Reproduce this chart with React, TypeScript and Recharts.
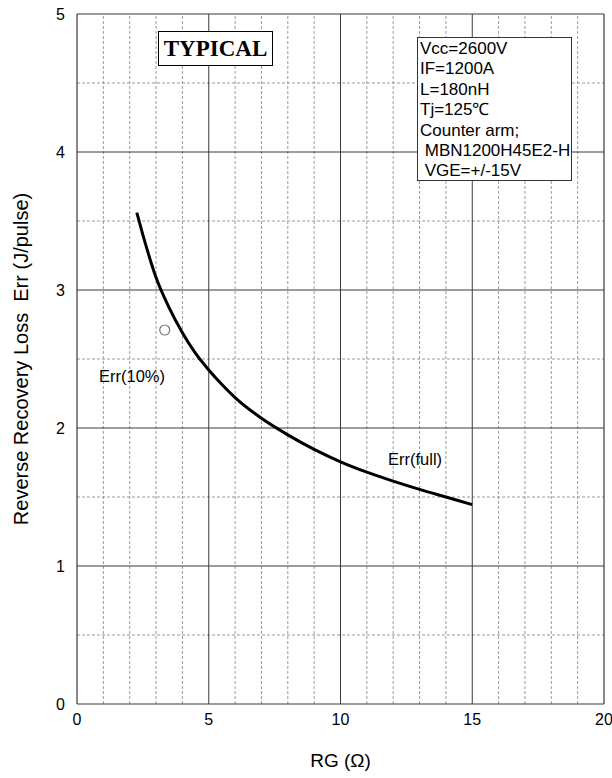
import {
  ComposedChart,
  Line,
  XAxis,
  YAxis,
  ReferenceLine,
  ReferenceDot,
} from "recharts";

// Err(full) curve
const rgValues = [2.27, 2.5, 3, 3.5, 4, 4.5, 5, 5.5, 6, 7, 8, 9, 10, 11, 12, 13, 14, 15];
const errValues = [3.56, 3.4, 3.09, 2.87, 2.69, 2.54, 2.42, 2.315, 2.22, 2.07, 1.95, 1.845, 1.755, 1.68, 1.615, 1.555, 1.5, 1.445];

// Err(10%) single point
const err10X = 3.33;
const err10Y = 2.71;

const xTicks = [0, 5, 10, 15, 20];
const yTicks = [0, 1, 2, 3, 4, 5];
const xMinor = [1, 2, 3, 4, 6, 7, 8, 9, 11, 12, 13, 14, 16, 17, 18, 19];
const xMajor = [5, 10, 15];
const yMinor = [0.5, 1.5, 2.5, 3.5, 4.5];
const yMajor = [1, 2, 3, 4];

const conditions = [
  "Vcc=2600V",
  "IF=1200A",
  "L=180nH",
  "Tj=125\u2103",
  "Counter arm;",
  " MBN1200H45E2-H",
  " VGE=+/-15V",
];

const FONT = "'Liberation Sans', Arial, sans-serif";
const MINOR = "#9a9a9a";
const MAJOR = "#3a3a3a";

export default function App() {
  const data = rgValues.map((rg, i) => ({ rg, err: errValues[i] }));

  return (
    <div style={{ position: "absolute", left: 0, top: 0, width: 612, height: 778, background: "#fff", fontFamily: FONT }}>
      <ComposedChart width={612} height={778} data={data} margin={{ top: 14, right: 8, left: 37, bottom: 44 }}>
        {xMinor.map((v) => (
          <ReferenceLine key={`xm${v}`} x={v} stroke={MINOR} strokeDasharray="3 2" strokeWidth={1} />
        ))}
        {yMinor.map((v) => (
          <ReferenceLine key={`ym${v}`} y={v} stroke={MINOR} strokeDasharray="3 2" strokeWidth={1} />
        ))}
        {xMajor.map((v) => (
          <ReferenceLine key={`xM${v}`} x={v} stroke={MAJOR} strokeWidth={1} />
        ))}
        {yMajor.map((v) => (
          <ReferenceLine key={`yM${v}`} y={v} stroke={MAJOR} strokeWidth={1} />
        ))}
        <ReferenceLine x={20} stroke={MAJOR} strokeWidth={1.2} />
        <ReferenceLine y={5} stroke={MAJOR} strokeWidth={1.2} />
        <XAxis
          type="number"
          dataKey="rg"
          domain={[0, 20]}
          ticks={xTicks}
          allowDataOverflow
          height={30}
          tickLine={false}
          axisLine={{ stroke: MAJOR, strokeWidth: 1.2 }}
          tick={{ fontSize: 16, fill: "#000", fontFamily: FONT }}
          tickMargin={4}
          label={{ value: "RG (\u03a9)", position: "insideBottom", offset: -33, fontSize: 19, fill: "#000", fontFamily: FONT }}
        />
        <YAxis
          type="number"
          domain={[0, 5]}
          ticks={yTicks}
          width={40}
          tickLine={false}
          axisLine={{ stroke: MAJOR, strokeWidth: 1.2 }}
          tick={{ fontSize: 16, fill: "#000", fontFamily: FONT }}
          tickMargin={6}
          label={{
            value: "Reverse Recovery Loss\u00a0 Err (J/pulse)",
            angle: -90,
            position: "insideLeft",
            offset: -16,
            style: { textAnchor: "middle", fontSize: 20, fill: "#000", fontFamily: FONT },
          }}
        />
        <Line
          type="monotone"
          dataKey="err"
          stroke="#000"
          strokeWidth={3}
          dot={false}
          isAnimationActive={false}
        />
        <ReferenceDot x={err10X} y={err10Y} r={5} fill="#fff" stroke="#777" strokeWidth={1.2} />
      </ComposedChart>

      <div
        style={{
          position: "absolute",
          left: 158,
          top: 31,
          width: 115,
          height: 35,
          border: "1px solid #000",
          boxSizing: "border-box",
          background: "#fff",
          fontFamily: "'Liberation Serif', 'Times New Roman', serif",
          fontWeight: "bold",
          fontSize: 23,
          lineHeight: "33px",
          textAlign: "center",
        }}
      >
        TYPICAL
      </div>

      <div
        style={{
          position: "absolute",
          left: 417,
          top: 37,
          width: 155,
          height: 144,
          border: "1px solid #333",
          boxSizing: "border-box",
          background: "#fff",
          fontSize: 17,
          lineHeight: "20.4px",
          padding: "1px 0 0 2px",
          whiteSpace: "pre",
        }}
      >
        {conditions.join("\n")}
      </div>

      <div style={{ position: "absolute", left: 99, top: 367, fontSize: 16.5 }}>Err(10%)</div>
      <div style={{ position: "absolute", left: 388, top: 450, fontSize: 16.5 }}>Err(full)</div>
    </div>
  );
}
